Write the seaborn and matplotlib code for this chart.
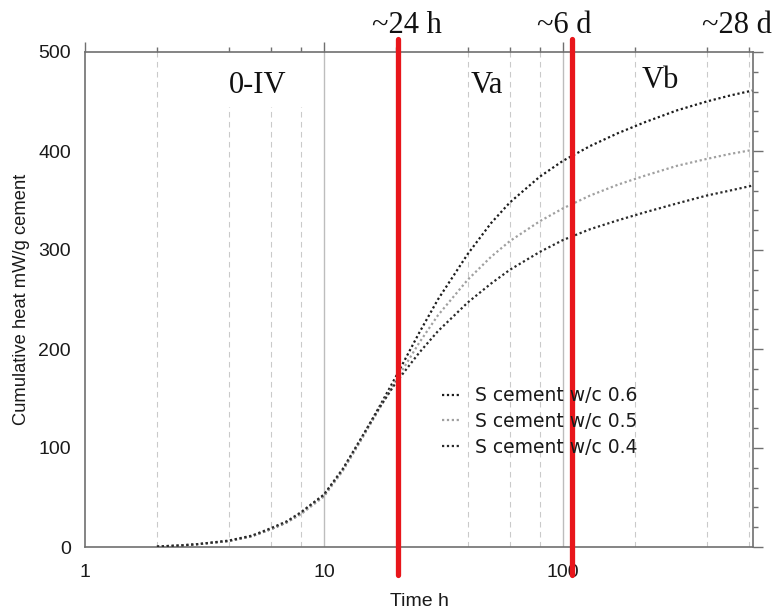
import numpy as np
import pandas as pd
import matplotlib
matplotlib.use("Agg")
import matplotlib.pyplot as plt
import seaborn as sns

# ---------------- data ----------------
time_h = [2, 2.5, 3, 4, 5, 6, 7, 8, 10, 12, 14, 17, 20, 25, 30, 40, 50, 60, 80,
          100, 130, 170, 220, 300, 400, 500, 620]
heat_wc06 = [0.5, 1.5, 3, 6, 11, 18, 25, 34, 52, 78, 105, 141, 172, 216, 250, 296,
             327, 348, 374, 390, 405, 418, 429, 441, 450, 456, 461]
heat_wc05 = [0.5, 1.5, 3, 6, 11, 18, 25, 33, 51, 77, 104, 139, 168, 206, 234, 270,
             293, 309, 329, 342, 355, 366, 375, 385, 392, 397, 401]
heat_wc04 = [0.5, 1.5, 3, 6.5, 11.5, 19, 26, 35, 53, 79, 106, 140, 166, 196, 218, 247,
             266, 280, 298, 310, 321, 330, 338, 347, 355, 360, 365]
series_labels = ["S cement w/c 0.6", "S cement w/c 0.5", "S cement w/c 0.4"]
series_colors = ["#1c1c1c", "#a0a0a0", "#2a2a2a"]

phase_boundaries = [20.4, 109]            # red lines (h)
top_labels = ["~24 h", "~6 d", "~28 d"]
top_label_x = [22.2, 101, 535]
region_labels = ["0-IV", "Va", "Vb"]
region_label_x = [5.3, 48.1, 257]
region_label_y = [0.917, 0.917, 0.927]

x_major = [1, 10, 100]
x_minor = [2, 4, 6, 8, 20, 40, 60, 80, 200, 400, 600]
y_major = [0, 100, 200, 300, 400, 500]
y_minor = list(range(0, 501, 20))

df = pd.DataFrame({
    "time": time_h * 3,
    "heat": heat_wc06 + heat_wc05 + heat_wc04,
    "series": sum([[s] * len(time_h) for s in series_labels], []),
})

# ---------------- figure ----------------
sns.set_theme(style="white")
plt.rcParams["font.family"] = ["DejaVu Sans"]

fig = plt.figure(figsize=(7.78, 6.11), dpi=100)
ax = fig.add_axes([85 / 778, 64 / 611, 668 / 778, 495 / 611])
ax.set_xscale("log")

for lab, col in zip(series_labels, series_colors):
    sub = df[df["series"] == lab]
    sns.lineplot(data=sub, x="time", y="heat", ax=ax, color=col, label=lab,
                 linestyle=(0, (1, 1.2)), linewidth=1.6, zorder=3)

ax.set_xlim(1, 625)
ax.set_ylim(0, 500)

# grid lines (vertical only)
for xv in x_major[1:]:
    ax.axvline(xv, color="#bdbdbd", lw=1.0, zorder=0.5)
for xv in x_minor:
    ax.axvline(xv, color="#cacaca", lw=0.8, ls=(0, (5, 4)), zorder=0.5)

# white box behind 0-IV label interrupting the grid
ax.axvspan(3.6, 9.2, ymin=0.889, ymax=1.0, color="white", zorder=1, lw=0)

# ticks
ax.set_xticks(x_major)
ax.set_xticklabels([str(v) for v in x_major])
ax.set_xticks(x_minor, minor=True)
ax.set_xticklabels([], minor=True)
ax.set_yticks(y_major)
ax.set_yticks(y_minor, minor=True)
ax.tick_params(axis="both", which="both", direction="out", colors="#707070",
               labelcolor="#1a1a1a", top=True, right=True, labeltop=False,
               labelright=False)
ax.tick_params(axis="both", which="major", length=7, width=1.0)
ax.tick_params(axis="both", which="minor", length=3.8, width=1.0)
ax.tick_params(axis="x", which="major", pad=5)
ax.tick_params(axis="y", which="major", pad=3)
for t in ax.get_xticklabels() + ax.get_yticklabels():
    t.set_fontfamily("Liberation Sans")
    t.set_fontsize(14)

for sp in ax.spines.values():
    sp.set_color("#707070")
    sp.set_linewidth(1.2)

ax.set_xlabel("Time h", family="Liberation Sans", fontsize=14, color="#1a1a1a",
              labelpad=9)
ax.set_ylabel("Cumulative heat mW/g cement", family="Liberation Sans",
              fontsize=13.2, color="#1a1a1a", labelpad=6)

# red phase lines
for xb in phase_boundaries:
    ax.axvline(xb, ymin=-0.057, ymax=1.027, color="#e8161b", lw=3.8,
               clip_on=False, zorder=4)

# top labels
trans = ax.get_xaxis_transform()
for lab, xv in zip(top_labels, top_label_x):
    ax.text(xv, 1.038, lab, transform=trans, ha="center", va="baseline",
            family="Liberation Serif", fontsize=22, color="#111111")
for lab, xv, yv in zip(region_labels, region_label_x, region_label_y):
    ax.text(xv, yv, lab, transform=trans, ha="center", va="baseline",
            family="Liberation Serif", fontsize=22, color="#111111", zorder=2)

leg = ax.legend(loc="upper left", bbox_to_anchor=(0.534, 0.325), frameon=False,
                borderaxespad=0, borderpad=0, handlelength=0.9,
                handletextpad=0.85, labelspacing=0.36,
                prop={"family": "DejaVu Sans", "size": 13.5})
for t in leg.get_texts():
    t.set_color("#1a1a1a")

fig.savefig("out.png", dpi=100)
